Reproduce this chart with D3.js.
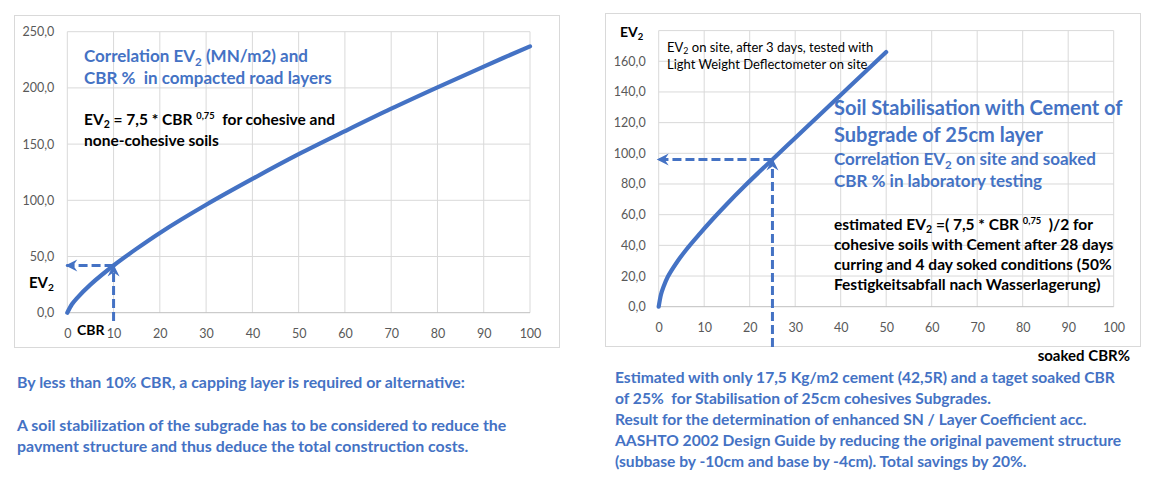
<!DOCTYPE html>
<html>
<head>
<meta charset="utf-8">
<script src="https://cdn.jsdelivr.net/npm/d3@7"></script>
<style>
  body { margin: 0; background: #fff; }
  svg text { font-family: Lato, "Noto Sans", sans-serif; white-space: pre; }
</style>
</head>
<body>
<svg id="chart" width="1156" height="482"></svg>
<script>
// values
const xTicks = [0, 10, 20, 30, 40, 50, 60, 70, 80, 90, 100]
const leftYTicks = [0, 50, 100, 150, 200, 250]
const rightYTicks = [0, 20, 40, 60, 80, 100, 120, 140, 160, 180]

// EV2 = 7,5 * CBR^0,75 (compacted road layers)
const leftCbr = [0, 1, 2, 5, 10, 15, 20, 30, 40, 50, 60, 70, 80, 90, 100]
const leftEv2 = [0, 7.5, 12.6, 25, 42, 57, 71, 96, 119, 141, 161.5, 181.5, 200.5, 219, 237]
const leftMarker = [10, 42]   // cbr, ev2

// EV2 on site, cement stabilised subgrade
const rightCbr = [0, 0.5, 1, 2, 4, 6, 9, 12, 15, 19, 22, 25, 30, 35, 40, 45, 50]
const rightEv2 = [0, 8, 12.5, 19.5, 29, 37, 47.5, 57.5, 67, 79, 87.6, 96, 110, 124, 138, 152, 166]
const rightMarker = [25, 96]

const blue = '#4472c4'
const grid = '#d9d9d9'
const tickCol = '#595959'

const svg = d3.select('#chart')
svg.append('rect').attr('width', 1156).attr('height', 482).attr('fill', '#fff')

const defs = svg.append('defs')
defs.append('marker')
  .attr('id', 'head')
  .attr('viewBox', '-12 -7 14 14')
  .attr('refX', 0).attr('refY', 0)
  .attr('markerWidth', 14).attr('markerHeight', 14)
  .attr('markerUnits', 'userSpaceOnUse')
  .attr('orient', 'auto')
  .append('path')
  .attr('d', 'M1,0 L-11,-6 L-7,0 L-11,6 Z')
  .attr('fill', blue)

// text with sub/superscripts
function rich(g, x, y, parts, size, color, weight, anchor) {
  const t = g.append('text')
    .attr('x', x).attr('y', y)
    .attr('font-size', size)
    .attr('font-weight', weight)
    .attr('fill', color)
    .attr('text-anchor', anchor || 'start')
  let shift = 0
  parts.forEach(p => {
    const s = typeof p === 'string' ? { t: p } : p
    const target = s.sub ? size * 0.22 : s.sup ? -size * 0.4 : 0
    t.append('tspan')
      .attr('dy', target - shift)
      .attr('font-size', (s.sub || s.sup) ? size * (s.sup ? 0.6 : 0.68) : size)
      .text(s.t)
    shift = target
  })
  return t
}

function drawChart(c) {
  const g = svg.append('g')
  g.append('rect')
    .attr('x', c.box[0]).attr('y', c.box[1])
    .attr('width', c.box[2]).attr('height', c.box[3])
    .attr('fill', 'none').attr('stroke', grid)

  const x = d3.scaleLinear().domain([0, 100]).range([c.plot[0], c.plot[1]])
  const y = d3.scaleLinear().domain([0, c.yMax]).range([c.plot[3], c.plot[2]])

  // grid
  g.append('g').selectAll('line').data(xTicks).join('line')
    .attr('x1', d => x(d)).attr('x2', d => x(d))
    .attr('y1', y(0)).attr('y2', y(c.yMax))
    .attr('stroke', grid)
  g.append('g').selectAll('line').data(c.yTicks).join('line')
    .attr('x1', x(0)).attr('x2', x(100))
    .attr('y1', d => y(d)).attr('y2', d => y(d))
    .attr('stroke', d => d === 0 ? '#bfbfbf' : grid)

  const yAxis = g.append('g')
    .attr('transform', `translate(${x(0)},0)`)
    .call(d3.axisLeft(y).tickValues(c.yTicks.filter(d => c.yLabels.includes(d)))
      .tickSize(0).tickPadding(13)
      .tickFormat(d => d3.format('.1f')(d).replace('.', ',')))
  yAxis.select('.domain').remove()
  yAxis.selectAll('text').attr('font-size', 12.5).attr('fill', tickCol)
    .attr('font-family', 'Lato')

  const xAxis = g.append('g')
    .attr('transform', `translate(0,${y(0)})`)
    .call(d3.axisBottom(x).tickValues(xTicks).tickSize(0).tickPadding(16))
  xAxis.select('.domain').remove()
  xAxis.selectAll('text').attr('font-size', 12.5).attr('fill', tickCol)
    .attr('font-family', 'Lato')

  // curve
  const line = d3.line()
    .x(i => x(c.cbr[i])).y(i => y(c.ev2[i]))
    .curve(d3.curveCatmullRom.alpha(0.5))
  g.append('path')
    .attr('d', line(d3.range(c.cbr.length)))
    .attr('fill', 'none').attr('stroke', blue)
    .attr('stroke-width', 4.2).attr('stroke-linecap', 'round')

  // dashed reading arrows
  const [mc, me] = c.marker
  g.append('line')
    .attr('x1', x(mc)).attr('x2', x(0) - 1)
    .attr('y1', y(me)).attr('y2', y(me))
    .attr('stroke', blue).attr('stroke-width', 3)
    .attr('stroke-dasharray', '9,4')
    .attr('marker-end', 'url(#head)')
  g.append('line')
    .attr('x1', x(mc)).attr('x2', x(mc))
    .attr('y1', c.arrowFrom).attr('y2', y(me))
    .attr('stroke', blue).attr('stroke-width', 3)
    .attr('stroke-dasharray', '9,4')
    .attr('marker-end', 'url(#head)')
  return g
}

// left chart
const gl = drawChart({
  box: [14.5, 15.5, 545, 332],
  plot: [67.3, 530, 31.7, 312.7],
  yMax: 250, yTicks: leftYTicks, yLabels: leftYTicks,
  cbr: leftCbr, ev2: leftEv2, marker: leftMarker, arrowFrom: 321
})
rich(gl, 84, 62, ['Correlation EV', { t: '2', sub: true }, ' (MN/m2) and'], 17, blue, 700)
rich(gl, 84, 84, ['CBR %  in compacted road layers'], 17, blue, 700)
rich(gl, 84, 125, ['EV', { t: '2', sub: true }, ' = 7,5 * CBR ', { t: '0,75', sup: true }, '  for cohesive and'], 15.5, '#000', 700)
rich(gl, 84, 146, ['none-cohesive soils'], 15.5, '#000', 700)
rich(gl, 29, 288, ['EV', { t: '2', sub: true }], 15, '#000', 700)
rich(gl, 77, 335, ['CBR'], 14, '#000', 700)

// right chart
const gr = drawChart({
  box: [605.5, 13.5, 535, 333],
  plot: [658.7, 1113.7, 30.6, 306.7],
  yMax: 180, yTicks: rightYTicks, yLabels: rightYTicks.filter(d => d < 180),
  cbr: rightCbr, ev2: rightEv2, marker: rightMarker, arrowFrom: 347
})
rich(gr, 620, 37, ['EV', { t: '2', sub: true }], 14, '#000', 700)
rich(gr, 667, 51.5, ['EV', { t: '2', sub: true }, ' on site, after 3 days, tested with'], 13, '#000', 400)
rich(gr, 667, 68.5, ['Light Weight Deflectometer on site'], 13, '#000', 400)
rich(gr, 834, 115, ['Soil Stabilisation with Cement of'], 20, blue, 700)
rich(gr, 834, 141.5, ['Subgrade of 25cm layer'], 20, blue, 700)
rich(gr, 834, 165, ['Correlation EV', { t: '2', sub: true }, ' on site and soaked'], 17, blue, 700)
rich(gr, 834, 186.5, ['CBR % in laboratory testing'], 17, blue, 700)
rich(gr, 834, 230, ['estimated EV', { t: '2', sub: true }, ' =( 7,5 * CBR ', { t: '0,75', sup: true }, '  )/2 for'], 15.5, '#000', 700)
rich(gr, 834, 250, ['cohesive soils with Cement after 28 days'], 15.5, '#000', 700)
rich(gr, 834, 270, ['curring and 4 day soked conditions (50%'], 15.5, '#000', 700)
rich(gr, 834, 290, ['Festigkeitsabfall nach Wasserlagerung)'], 15.5, '#000', 700)
rich(gr, 1130, 361, ['soaked CBR%'], 15, '#000', 700, 'end')

// notes under the charts
const notesLeft = [
  [388, 'By less than 10% CBR, a capping layer is required or alternative:'],
  [431, 'A soil stabilization of the subgrade has to be considered to reduce the'],
  [452, 'pavment structure and thus deduce the total construction costs.']
]
const notesRight = [
  [383, 'Estimated with only 17,5 Kg/m2 cement (42,5R) and a taget soaked CBR'],
  [404, 'of 25%  for Stabilisation of 25cm cohesives Subgrades.'],
  [425, 'Result for the determination of enhanced SN / Layer Coefficient acc.'],
  [446, 'AASHTO 2002 Design Guide by reducing the original pavement structure'],
  [467, '(subbase by -10cm and base by -4cm). Total savings by 20%.']
]
notesLeft.forEach(([yy, t]) => rich(svg, 17, yy, [t], 15.9, blue, 700))
notesRight.forEach(([yy, t]) => rich(svg, 615, yy, [t], 15.6, blue, 700))
</script>
</body>
</html>
